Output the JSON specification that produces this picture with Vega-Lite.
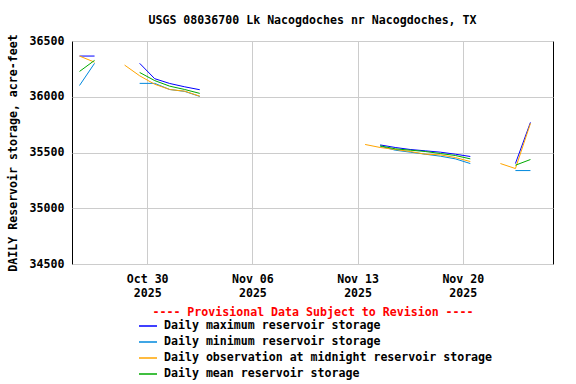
{
  "$schema": "https://vega.github.io/schema/vega-lite/v6.json",
  "autosize": "none",
  "width": 481,
  "height": 223,
  "padding": {"left": 72, "top": 41, "right": 23, "bottom": 120},
  "background": "white",
  "config": {
    "font": "DejaVu Sans Mono",
    "view": {"stroke": "black", "strokeWidth": 1},
    "axis": {"labelFont": "DejaVu Sans Mono", "labelFontWeight": "bold", "labelFontSize": 11.6, "labelColor": "black", "titleFont": "DejaVu Sans Mono", "titleFontWeight": "bold", "titleFontSize": 11.6, "titleColor": "black", "gridColor": "#cccccc", "gridWidth": 1, "domain": false, "ticks": false},
    "legend": {"labelFont": "DejaVu Sans Mono", "labelFontWeight": "bold", "labelFontSize": 11.6, "labelColor": "black"}
  },
  "title": {"text": "USGS 08036700 Lk Nacogdoches nr Nacogdoches, TX", "font": "DejaVu Sans Mono", "fontWeight": "bold", "fontSize": 11.6, "color": "black", "anchor": "middle", "offset": 7},
  "data": {"values": [
    {"d": "2025-10-25T12:00:00", "s": "max", "g": 1, "v": 36365},
    {"d": "2025-10-26T12:00:00", "s": "max", "g": 1, "v": 36365},
    {"d": "2025-10-29T12:00:00", "s": "max", "g": 2, "v": 36300},
    {"d": "2025-10-30T12:00:00", "s": "max", "g": 2, "v": 36162},
    {"d": "2025-10-31T12:00:00", "s": "max", "g": 2, "v": 36119},
    {"d": "2025-11-01T12:00:00", "s": "max", "g": 2, "v": 36089},
    {"d": "2025-11-02T12:00:00", "s": "max", "g": 2, "v": 36063},
    {"d": "2025-11-14T12:00:00", "s": "max", "g": 3, "v": 35568},
    {"d": "2025-11-15T12:00:00", "s": "max", "g": 3, "v": 35545},
    {"d": "2025-11-16T12:00:00", "s": "max", "g": 3, "v": 35527},
    {"d": "2025-11-17T12:00:00", "s": "max", "g": 3, "v": 35515},
    {"d": "2025-11-18T12:00:00", "s": "max", "g": 3, "v": 35503},
    {"d": "2025-11-19T12:00:00", "s": "max", "g": 3, "v": 35485},
    {"d": "2025-11-20T12:00:00", "s": "max", "g": 3, "v": 35464},
    {"d": "2025-11-23T12:00:00", "s": "max", "g": 4, "v": 35401},
    {"d": "2025-11-24T12:00:00", "s": "max", "g": 4, "v": 35770},

    {"d": "2025-10-25T12:00:00", "s": "min", "g": 1, "v": 36101},
    {"d": "2025-10-26T12:00:00", "s": "min", "g": 1, "v": 36300},
    {"d": "2025-10-29T12:00:00", "s": "min", "g": 2, "v": 36120},
    {"d": "2025-10-30T12:00:00", "s": "min", "g": 2, "v": 36120},
    {"d": "2025-10-31T12:00:00", "s": "min", "g": 2, "v": 36065},
    {"d": "2025-11-01T12:00:00", "s": "min", "g": 2, "v": 36048},
    {"d": "2025-11-02T12:00:00", "s": "min", "g": 2, "v": 36003},
    {"d": "2025-11-14T12:00:00", "s": "min", "g": 3, "v": 35557},
    {"d": "2025-11-15T12:00:00", "s": "min", "g": 3, "v": 35521},
    {"d": "2025-11-16T12:00:00", "s": "min", "g": 3, "v": 35503},
    {"d": "2025-11-17T12:00:00", "s": "min", "g": 3, "v": 35485},
    {"d": "2025-11-18T12:00:00", "s": "min", "g": 3, "v": 35467},
    {"d": "2025-11-19T12:00:00", "s": "min", "g": 3, "v": 35443},
    {"d": "2025-11-20T12:00:00", "s": "min", "g": 3, "v": 35401},
    {"d": "2025-11-23T12:00:00", "s": "min", "g": 4, "v": 35338},
    {"d": "2025-11-24T12:00:00", "s": "min", "g": 4, "v": 35338},

    {"d": "2025-10-25T12:00:00", "s": "obs", "g": 1, "v": 36365},
    {"d": "2025-10-26T12:00:00", "s": "obs", "g": 1, "v": 36310},
    {"d": "2025-10-28T12:00:00", "s": "obs", "g": 2, "v": 36284},
    {"d": "2025-10-29T12:00:00", "s": "obs", "g": 2, "v": 36188},
    {"d": "2025-10-30T12:00:00", "s": "obs", "g": 2, "v": 36112},
    {"d": "2025-10-31T12:00:00", "s": "obs", "g": 2, "v": 36065},
    {"d": "2025-11-01T12:00:00", "s": "obs", "g": 2, "v": 36050},
    {"d": "2025-11-02T12:00:00", "s": "obs", "g": 2, "v": 36005},
    {"d": "2025-11-13T12:00:00", "s": "obs", "g": 3, "v": 35572},
    {"d": "2025-11-14T12:00:00", "s": "obs", "g": 3, "v": 35545},
    {"d": "2025-11-15T12:00:00", "s": "obs", "g": 3, "v": 35527},
    {"d": "2025-11-16T12:00:00", "s": "obs", "g": 3, "v": 35509},
    {"d": "2025-11-17T12:00:00", "s": "obs", "g": 3, "v": 35485},
    {"d": "2025-11-18T12:00:00", "s": "obs", "g": 3, "v": 35479},
    {"d": "2025-11-19T12:00:00", "s": "obs", "g": 3, "v": 35455},
    {"d": "2025-11-20T12:00:00", "s": "obs", "g": 3, "v": 35419},
    {"d": "2025-11-22T12:00:00", "s": "obs", "g": 4, "v": 35401},
    {"d": "2025-11-23T12:00:00", "s": "obs", "g": 4, "v": 35356},
    {"d": "2025-11-24T12:00:00", "s": "obs", "g": 4, "v": 35761},

    {"d": "2025-10-25T12:00:00", "s": "mean", "g": 1, "v": 36227},
    {"d": "2025-10-26T12:00:00", "s": "mean", "g": 1, "v": 36326},
    {"d": "2025-10-29T12:00:00", "s": "mean", "g": 2, "v": 36218},
    {"d": "2025-10-30T12:00:00", "s": "mean", "g": 2, "v": 36145},
    {"d": "2025-10-31T12:00:00", "s": "mean", "g": 2, "v": 36095},
    {"d": "2025-11-01T12:00:00", "s": "mean", "g": 2, "v": 36065},
    {"d": "2025-11-02T12:00:00", "s": "mean", "g": 2, "v": 36030},
    {"d": "2025-11-14T12:00:00", "s": "mean", "g": 3, "v": 35560},
    {"d": "2025-11-15T12:00:00", "s": "mean", "g": 3, "v": 35533},
    {"d": "2025-11-16T12:00:00", "s": "mean", "g": 3, "v": 35521},
    {"d": "2025-11-17T12:00:00", "s": "mean", "g": 3, "v": 35509},
    {"d": "2025-11-18T12:00:00", "s": "mean", "g": 3, "v": 35491},
    {"d": "2025-11-19T12:00:00", "s": "mean", "g": 3, "v": 35473},
    {"d": "2025-11-20T12:00:00", "s": "mean", "g": 3, "v": 35443},
    {"d": "2025-11-23T12:00:00", "s": "mean", "g": 4, "v": 35386},
    {"d": "2025-11-24T12:00:00", "s": "mean", "g": 4, "v": 35437}
  ]},
  "mark": {"type": "line", "strokeWidth": 1, "interpolate": "linear"},
  "encoding": {
    "x": {
      "field": "d", "type": "temporal",
      "scale": {"domain": [{"year": 2025, "month": 10, "date": 25}, {"year": 2025, "month": 11, "date": 26}]},
      "axis": {
        "values": [{"year": 2025, "month": 10, "date": 30}, {"year": 2025, "month": 11, "date": 6}, {"year": 2025, "month": 11, "date": 13}, {"year": 2025, "month": 11, "date": 20}],
        "labelExpr": "[timeFormat(datum.value, '%b %d'), timeFormat(datum.value, '%Y')]",
        "labelLineHeight": 14,
        "labelPadding": 9,
        "title": "---- Provisional Data Subject to Revision ----",
        "titleColor": "#ff0000",
        "titlePadding": 8
      }
    },
    "y": {
      "field": "v", "type": "quantitative",
      "scale": {"domain": [34500, 36500], "nice": false, "zero": false},
      "axis": {"values": [34500, 35000, 35500, 36000, 36500], "format": "d", "labelPadding": 8, "title": "DAILY Reservoir storage, acre-feet", "titlePadding": 11}
    },
    "detail": {"field": "g"},
    "color": {
      "field": "s", "type": "nominal",
      "scale": {"domain": ["max", "min", "obs", "mean"], "range": ["#0000ff", "#0088dd", "#ffa500", "#00aa00"]},
      "legend": {
        "orient": "none", "legendX": 66, "legendY": 275, "title": null,
        "symbolType": "stroke", "symbolSize": 324, "symbolStrokeWidth": 1.5,
        "labelOffset": 6, "rowPadding": 0, "labelLimit": 600,
        "labelExpr": "datum.value == 'max' ? 'Daily maximum reservoir storage' : datum.value == 'min' ? 'Daily minimum reservoir storage' : datum.value == 'obs' ? 'Daily observation at midnight reservoir storage' : 'Daily mean reservoir storage'"
      }
    }
  }
}
